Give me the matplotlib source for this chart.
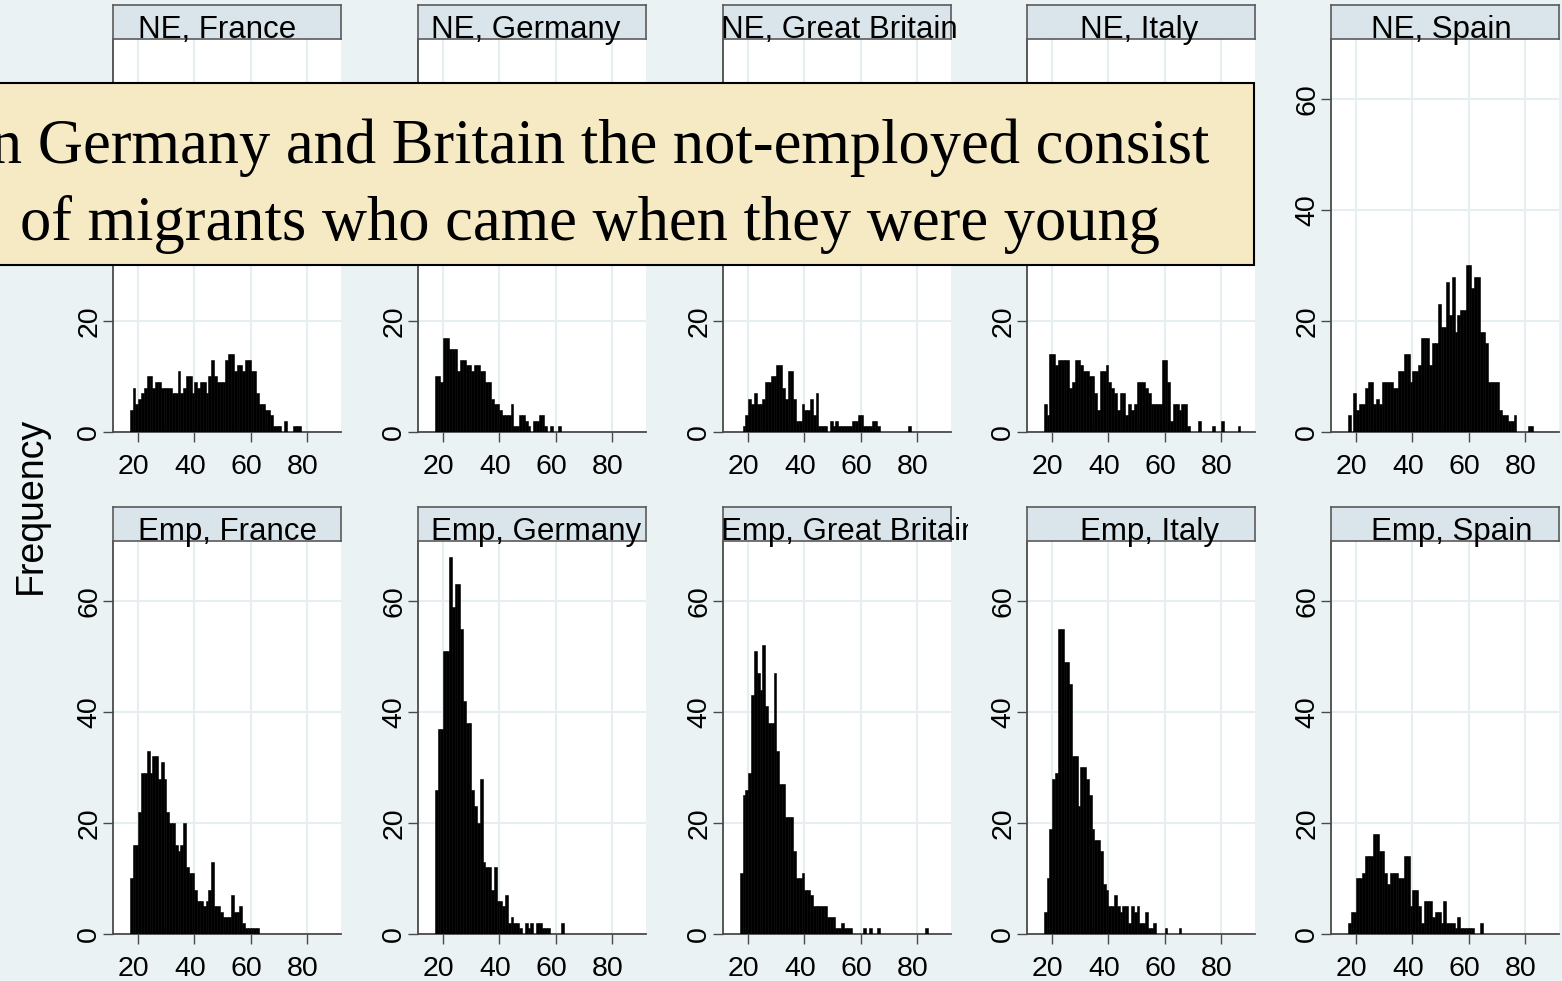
import matplotlib
matplotlib.use("Agg")
import matplotlib.pyplot as plt
from matplotlib.patches import Rectangle
from matplotlib.transforms import Bbox, ScaledTranslation

plt.rcParams["font.family"] = ["Liberation Sans", "DejaVu Sans"]

# ---------------------------------------------------------------- data
countries = ["France", "Germany", "Great Britain", "Italy", "Spain"]
groups = ["NE", "Emp"]

# Frequencies by single year of age; *_start is the first age of each list
ne_france_start = 17
ne_france = [4, 8, 5, 6, 7, 8, 10, 10, 8, 9, 9, 8, 8, 8, 8, 7, 7, 11, 7, 8,
             10, 10, 7, 9, 8, 9, 9, 7, 10, 13, 10, 9, 9, 9, 13, 14, 14, 11, 12, 12,
             11, 13, 13, 11, 11, 7, 5, 5, 4, 4, 3, 1, 1, 1, 0, 2, 0, 0, 1, 1, 1]

ne_germany_start = 17
ne_germany = [10, 10, 9, 17, 17, 15, 15, 15, 11, 13, 13, 12, 12, 11, 12, 12, 11, 11, 9, 9,
              6, 5, 5, 4, 3, 3, 3, 5, 1, 1, 3, 3, 2, 1, 0, 2, 2, 3, 3, 1,
              0, 1, 0, 0, 1]

ne_britain_start = 18
ne_britain = [1, 3, 6, 5, 7, 5, 5, 6, 9, 9, 10, 10, 12, 12, 8, 6, 11, 11, 6, 2,
              2, 5, 4, 4, 6, 3, 7, 1, 1, 1, 0, 2, 1, 2, 1, 1, 1, 1, 1, 2,
              2, 3, 3, 1, 1, 1, 2, 2, 1, 0, 0, 0, 0, 0, 0, 0, 0, 0, 0, 1]

ne_italy_start = 17
ne_italy = [5, 3, 14, 14, 12, 13, 13, 13, 13, 8, 9, 13, 13, 12, 11, 11, 10, 10, 7, 4,
            11, 11, 12, 9, 8, 7, 4, 7, 7, 3, 5, 4, 5, 9, 9, 9, 8, 7, 5, 5,
            5, 5, 13, 13, 9, 2, 5, 5, 4, 5, 5, 1, 0, 0, 0, 2, 0, 0, 0, 0,
            1, 0, 0, 2, 0, 0, 0, 0, 0, 1]

ne_spain_start = 17
ne_spain = [3, 0, 7, 4, 5, 5, 8, 9, 9, 5, 6, 5, 9, 9, 9, 9, 8, 8, 11, 11,
            14, 14, 9, 11, 11, 12, 17, 17, 17, 12, 16, 16, 23, 19, 19, 27, 21, 28, 18, 21,
            22, 22, 30, 30, 26, 28, 28, 18, 18, 16, 9, 9, 9, 9, 4, 3, 3, 2, 2, 3,
            0, 0, 0, 0, 1, 1]

emp_france_start = 17
emp_france = [10, 16, 16, 22, 29, 29, 33, 29, 32, 32, 28, 31, 28, 22, 20, 20, 16, 15, 16, 20,
              12, 11, 11, 8, 6, 6, 5, 6, 8, 13, 5, 5, 4, 3, 3, 3, 7, 4, 4, 5,
              2, 1, 1, 1, 1, 1]

emp_germany_start = 17
emp_germany = [26, 37, 37, 51, 51, 68, 59, 63, 63, 55, 42, 38, 38, 26, 23, 20, 28, 13, 12, 12,
               8, 12, 6, 6, 5, 7, 2, 3, 2, 2, 1, 0, 2, 1, 2, 0, 2, 2, 1, 1,
               1, 0, 0, 0, 0, 2]

emp_britain_start = 17
emp_britain = [11, 25, 26, 29, 43, 51, 47, 44, 52, 41, 38, 38, 47, 33, 27, 27, 21, 21, 21, 15,
               10, 10, 11, 8, 8, 7, 5, 5, 5, 5, 5, 3, 3, 3, 1, 1, 2, 1, 1, 1,
               0, 0, 0, 0, 1, 0, 1, 0, 0, 1, 0, 0, 0, 0, 0, 0, 0, 0, 0, 0,
               0, 0, 0, 0, 0, 0, 1]

emp_italy_start = 17
emp_italy = [4, 10, 19, 28, 29, 55, 55, 49, 49, 45, 32, 32, 23, 30, 30, 28, 25, 19, 17, 17,
             15, 9, 8, 5, 5, 7, 5, 4, 5, 5, 2, 5, 4, 5, 2, 2, 4, 1, 1, 2,
             0, 0, 0, 1, 0, 0, 0, 0, 1]

emp_spain_start = 17
emp_spain = [2, 4, 4, 10, 10, 11, 14, 14, 14, 18, 18, 15, 15, 11, 9, 11, 11, 11, 10, 10,
             14, 14, 5, 8, 8, 5, 2, 6, 6, 6, 3, 4, 4, 2, 6, 2, 2, 2, 1, 3,
             1, 1, 1, 1, 1, 0, 0, 2]

x_ticks = [20, 40, 60, 80]
y_ticks = [0, 20, 40, 60]
y_title = "Frequency"
callout_lines = ["In Germany and Britain the not-employed consist",
                 "of migrants who came when they were young"]

series = {
    ("NE", "France"): (ne_france_start, ne_france),
    ("NE", "Germany"): (ne_germany_start, ne_germany),
    ("NE", "Great Britain"): (ne_britain_start, ne_britain),
    ("NE", "Italy"): (ne_italy_start, ne_italy),
    ("NE", "Spain"): (ne_spain_start, ne_spain),
    ("Emp", "France"): (emp_france_start, emp_france),
    ("Emp", "Germany"): (emp_germany_start, emp_germany),
    ("Emp", "Great Britain"): (emp_britain_start, emp_britain),
    ("Emp", "Italy"): (emp_italy_start, emp_italy),
    ("Emp", "Spain"): (emp_spain_start, emp_spain),
}

# ---------------------------------------------------------------- style / layout
W, H = 1562, 981
BG = "#EAF2F3"
GRID = "#E6EEF1"
STRIP = "#D9E5EA"
AXC = "#4A4A4A"
NOTE_BG = "#F5EAC3"
YMAX = 70.8

col_left = [113, 418, 723, 1027, 1331]
title_x = [138, 431, 721, 1080, 1371]
row_top = [39, 541]
panel_w = 228
panel_h = 393
strip_h = 34

# note box extent in pixels (left, top, right, bottom)
note_l, note_t, note_r, note_b = -74, 83, 1254, 265

fig = plt.figure(figsize=(W / 100, H / 100), dpi=100)
fig.patch.set_facecolor(BG)


def fx(px):
    return px / W


def fy(py):
    return 1 - py / H


xlab_shift = ScaledTranslation(-4.5 / 100, 0, fig.dpi_scale_trans)

for r, grp in enumerate(groups):
    for c, country in enumerate(countries):
        left = col_left[c]
        top = row_top[r]
        ax = fig.add_axes([fx(left), fy(top + panel_h), panel_w / W, panel_h / H])
        ax.set_facecolor("white")
        start, counts = series[(grp, country)]
        ages = list(range(start, start + len(counts)))
        ax.bar(ages, counts, width=1.0, align="edge", color="black",
               edgecolor="black", linewidth=0.4, zorder=3)
        ax.set_xlim(11, 92.2)
        ax.set_ylim(0, YMAX)
        ax.set_xticks(x_ticks)
        ax.set_yticks(y_ticks)
        ax.set_axisbelow(True)
        ax.grid(True, color=GRID, linewidth=1.5)
        for s in ("top", "right"):
            ax.spines[s].set_visible(False)
        for s in ("left", "bottom"):
            ax.spines[s].set_color(AXC)
            ax.spines[s].set_linewidth(1.3)
        ax.tick_params(axis="both", direction="out", length=7.2, width=1.0,
                       color=AXC, labelsize=20.5, labelcolor="black")
        ax.tick_params(axis="x", pad=8.5)
        ax.tick_params(axis="y", pad=0.5, labelrotation=90)
        for tick in ax.xaxis.get_major_ticks():
            tick.label1.set_transform(tick.label1.get_transform() + xlab_shift)
        for v, lab in zip(y_ticks, ax.get_yticklabels()):
            lab.set_va("center")
            lab.set_ha("right")
            # labels lying under the note box are not drawn
            ypix = top + panel_h * (1 - v / YMAX)
            if left < note_r and note_t < ypix < note_b:
                lab.set_visible(False)

        # facet header
        sax = fig.add_axes([fx(left), fy(top), panel_w / W, strip_h / H])
        sax.set_facecolor(STRIP)
        sax.set_xticks([])
        sax.set_yticks([])
        for s in sax.spines.values():
            s.set_color("#5A5A5A")
            s.set_linewidth(1.2)
        t = fig.text(fx(title_x[c]), fy(top - 1), f"{grp}, {country}",
                     ha="left", va="baseline", fontsize=22.5, color="black")
        t.set_clip_box(Bbox.from_extents(left, H - (top + 10),
                                         left + panel_w + 17, H - (top - strip_h)))
        t.set_clip_on(True)

fig.text(fx(31), fy(505), y_title, rotation=90, ha="center", va="center",
         fontsize=27, color="black")

# annotation box laid over the upper row
note = Rectangle((fx(note_l), fy(note_b)), (note_r - note_l) / W, (note_b - note_t) / H,
                 transform=fig.transFigure, facecolor=NOTE_BG, edgecolor="black",
                 linewidth=1.5, zorder=10)
fig.add_artist(note)
for line, base in zip(callout_lines, [163, 240]):
    fig.text(fx(590), fy(base), line, ha="center", va="baseline",
             fontsize=45, family=["Liberation Serif", "DejaVu Serif"],
             color="black", zorder=11)

fig.savefig("out.png", dpi=100, facecolor=BG)
